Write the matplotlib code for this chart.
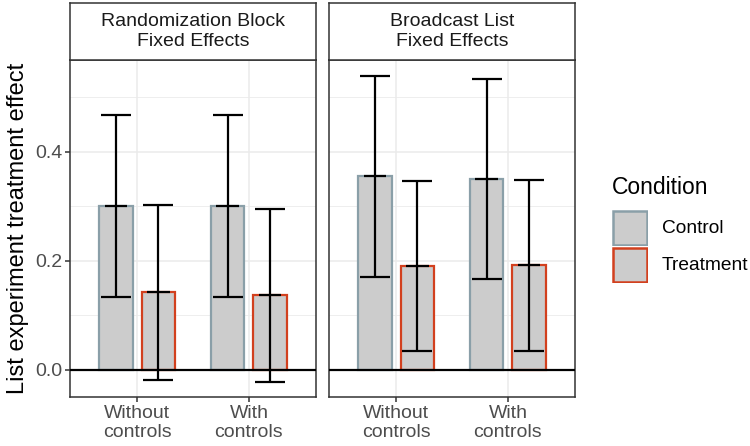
import numpy as np
import matplotlib.pyplot as plt
from matplotlib.patches import Rectangle

plt.rcParams['font.family'] = ['Liberation Sans', 'DejaVu Sans']

panels = ["Randomization Block\nFixed Effects", "Broadcast List\nFixed Effects"]
categories = ["Without\ncontrols", "With\ncontrols"]
conditions = ["Control", "Treatment"]

# estimate, lower, upper  -> [panel][category]
control_est = [[0.300, 0.300], [0.355, 0.350]]
control_lo = [[0.133, 0.134], [0.171, 0.166]]
control_hi = [[0.467, 0.468], [0.539, 0.533]]
treat_est = [[0.142, 0.137], [0.191, 0.192]]
treat_lo = [[-0.018, -0.022], [0.034, 0.035]]
treat_hi = [[0.302, 0.295], [0.347, 0.348]]

fill = "#CCCCCC"
edges = {"Control": "#8A9FA8", "Treatment": "#D2401E"}
W, H = 750, 446
fig = plt.figure(figsize=(W / 100, H / 100), dpi=100)

def px(x0, y0, x1, y1):
    return [x0 / W, 1 - y1 / H, (x1 - x0) / W, (y1 - y0) / H]

lefts = [70, 329]
width = 246
for p, name in enumerate(panels):
    x0 = lefts[p]
    ax = fig.add_axes(px(x0, 60, x0 + width, 397))
    ax.set_xlim(0.4, 2.6)
    ax.set_ylim(-0.0495, 0.568)
    ax.set_yticks([0, 0.2, 0.4])
    ax.set_yticks([0.1, 0.3, 0.5], minor=True)
    ax.set_xticks([1, 2])
    ax.grid(True, which='major', color='#EBEBEB', lw=1.1)
    ax.grid(True, which='minor', axis='y', color='#EBEBEB', lw=0.6)
    ax.set_axisbelow(True)
    for s in ax.spines.values():
        s.set_color('#333333')
        s.set_linewidth(1.1)
    ax.tick_params(axis='both', which='major', color='#333333', length=3.7,
                   width=1.1, labelsize=14, labelcolor='#4D4D4D', pad=2)
    ax.tick_params(which='minor', length=0)
    ax.set_xticklabels(categories, linespacing=1.15)
    if p == 0:
        ax.set_yticklabels(["0.0", "0.2", "0.4"])
        ax.set_ylabel("List experiment treatment effect", fontsize=17, labelpad=4)
    else:
        ax.set_yticklabels([])
        ax.tick_params(axis='y', length=0)

    xs = np.array([1, 2])
    for c, cond in enumerate(conditions):
        est = control_est[p] if c == 0 else treat_est[p]
        lo = control_lo[p] if c == 0 else treat_lo[p]
        hi = control_hi[p] if c == 0 else treat_hi[p]
        xpos = xs + (-0.19 if c == 0 else 0.19)
        ax.bar(xpos, est, width=0.30, color=fill, edgecolor=edges[cond],
               linewidth=1.6, zorder=2)
        ax.errorbar(xpos, est, yerr=[np.array(est) - np.array(lo), np.array(hi) - np.array(est)],
                    fmt='none', ecolor='black', elinewidth=1.6, capsize=10.5,
                    capthick=1.6, zorder=3)
        ax.hlines(est, xpos - 0.1, xpos + 0.1, color='black', lw=1.6, zorder=3)
    ax.axhline(0, color='black', lw=1.6, zorder=4)

    sax = fig.add_axes(px(x0, 3, x0 + width, 60))
    sax.set_xticks([])
    sax.set_yticks([])
    for s in sax.spines.values():
        s.set_color('#333333')
        s.set_linewidth(1.1)
    sax.text(0.5, 0.5, name, ha='center', va='center', fontsize=14,
             color='#1A1A1A', linespacing=1.2, transform=sax.transAxes)

# legend
fig.text(612 / W, 1 - 187 / H, "Condition", fontsize=16.5, ha='left', va='center')
for i, cond in enumerate(conditions):
    y0 = 210 + i * 37
    lax = fig.add_axes(px(612, y0, 648, y0 + 36))
    lax.axis('off')
    lax.add_patch(Rectangle((0.04, 0.04), 0.92, 0.92, transform=lax.transAxes,
                            facecolor=fill, edgecolor=edges[cond], lw=1.8))
    fig.text(662 / W, 1 - (y0 + 18) / H, cond, fontsize=13.8, ha='left', va='center')

fig.savefig("out.png", dpi=100)
